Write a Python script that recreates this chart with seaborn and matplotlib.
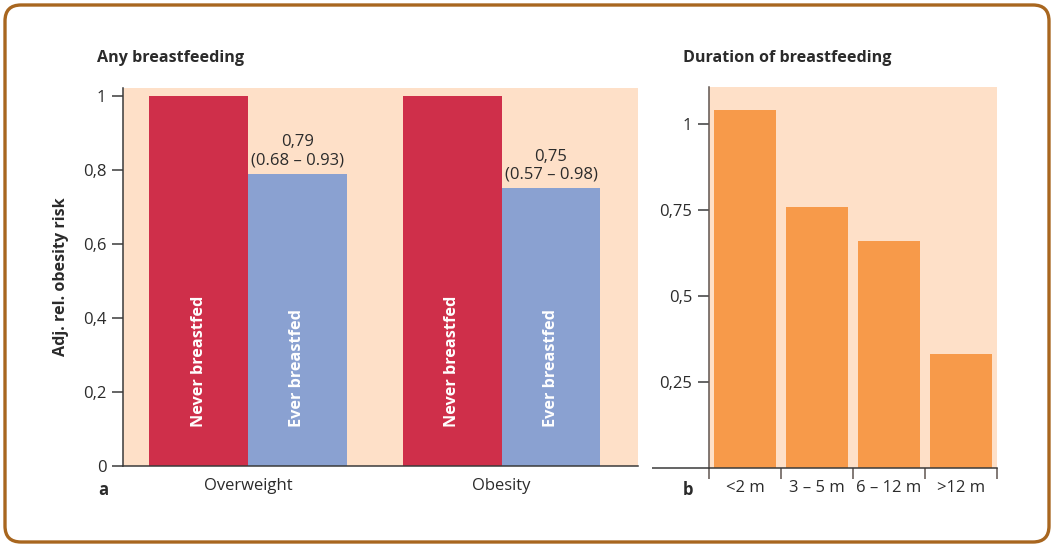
import matplotlib
matplotlib.use("Agg")
import matplotlib.pyplot as plt
from matplotlib.patches import FancyBboxPatch
from matplotlib.transforms import IdentityTransform, blended_transform_factory
import seaborn as sns
import pandas as pd

# ---- data -------------------------------------------------------------
conditions = ["Overweight", "Obesity"]
groups = ["Never breastfed", "Ever breastfed"]
never_risk = [1.0, 1.0]
ever_risk = [0.79, 0.75]
ever_ci_low = [0.68, 0.57]
ever_ci_high = [0.93, 0.98]

durations = ["<2 m", "3 – 5 m", "6 – 12 m", ">12 m"]
duration_risk = [1.04, 0.76, 0.66, 0.33]

left_yticks = [0, 0.2, 0.4, 0.6, 0.8, 1.0]
right_yticks = [0.25, 0.5, 0.75, 1.0]

# ---- style ------------------------------------------------------------
sns.set_style("ticks")
plt.rcParams["font.family"] = ["Open Sans", "DejaVu Sans"]
TEXT = "#2b2b2b"
AXIS = "#3a3a3a"
RED = "#cf2f4a"
BLUE = "#8aa1d1"
ORANGE = "#f79a4a"
PEACH = "#fee0c8"
FRAME = "#a8661f"
FS = 12
FS_TITLE = 11.6


def comma(v):
    s = f"{v:g}"
    return s.replace(".", ",")


W, H = 1052, 544
fig = plt.figure(figsize=(W / 100, H / 100), dpi=100)

# rounded outer frame (pixel coordinates)
frame = FancyBboxPatch((5, 2), 1044, 537, boxstyle="round,pad=0,rounding_size=16",
                       transform=IdentityTransform(), facecolor="none",
                       edgecolor=FRAME, linewidth=2.4)
fig.patches.append(frame)

# ---- panel a: any breastfeeding ----------------------------------------
ax1 = fig.add_axes([123 / W, (H - 466) / H, (638 - 123) / W, (466 - 88) / H])
ax1.set_facecolor(PEACH)

df = pd.DataFrame({
    "condition": conditions * 2,
    "group": [groups[0]] * len(conditions) + [groups[1]] * len(conditions),
    "risk": never_risk + ever_risk,
})
sns.barplot(data=df, x="condition", y="risk", hue="group", order=conditions,
            hue_order=groups, palette=[RED, BLUE], width=0.78, gap=0,
            saturation=1, linewidth=0, errorbar=None, legend=False, ax=ax1)

ax1.set_xlim(-0.493, 1.538)
ax1.set_ylim(0, 1.0216)
ax1.set_yticks(left_yticks)
ax1.set_yticklabels([comma(v) for v in left_yticks])
ax1.set_xlabel("")
ax1.set_ylabel("Adj. rel. obesity risk", fontsize=FS_TITLE, fontweight="bold",
               color=TEXT, labelpad=10)
for s in ["top", "right"]:
    ax1.spines[s].set_visible(False)
for s in ["left", "bottom"]:
    ax1.spines[s].set_color(AXIS)
    ax1.spines[s].set_linewidth(1.1)
ax1.tick_params(axis="y", length=8, width=1.1, color=AXIS, labelsize=FS,
                labelcolor=TEXT, pad=4)
ax1.tick_params(axis="x", length=0, labelsize=FS, labelcolor=TEXT, pad=9)

for container, label in zip(ax1.containers, groups):
    for bar in container:
        ax1.text(bar.get_x() + bar.get_width() / 2, 0.105, label,
                 rotation=90, ha="center", va="bottom", color="white",
                 fontsize=11.7, fontweight="bold")

for bar, v, lo, hi in zip(ax1.containers[1], ever_risk, ever_ci_low, ever_ci_high):
    ax1.annotate(f"{comma(v)}\n({lo:.2f} – {hi:.2f})",
                 (bar.get_x() + bar.get_width() / 2, bar.get_height()),
                 xytext=(0, 4), textcoords="offset points",
                 ha="center", va="bottom", fontsize=FS, color=TEXT,
                 linespacing=1.2)

# ---- panel b: duration of breastfeeding ------------------------------
ax2 = fig.add_axes([709 / W, (H - 468) / H, (997 - 709) / W, (468 - 87) / H])
ax2.set_facecolor(PEACH)
dfd = pd.DataFrame({"duration": durations, "risk": duration_risk})
sns.barplot(data=dfd, x="duration", y="risk", order=durations, color=ORANGE,
            width=0.86, saturation=1, linewidth=0, errorbar=None, ax=ax2)
ax2.set_xlim(-0.5, len(durations) - 0.5)
ax2.set_ylim(0, 1.1076)
ax2.set_yticks(right_yticks)
ax2.set_yticklabels([comma(v) for v in right_yticks])
ax2.set_xticks(range(len(durations)))
ax2.set_xticklabels(durations)
ax2.set_xticks([i - 0.5 for i in range(len(durations) + 1)], minor=True)
ax2.set_xlabel("")
ax2.set_ylabel("")
for s in ["top", "right"]:
    ax2.spines[s].set_visible(False)
ax2.spines["left"].set_color("#5f5550")
ax2.spines["bottom"].set_color(AXIS)
for s in ["left", "bottom"]:
    ax2.spines[s].set_linewidth(1.1)
ax2.tick_params(axis="y", length=8, width=1.1, color=AXIS, labelsize=FS,
                labelcolor=TEXT, pad=4)
ax2.tick_params(axis="x", which="major", length=0, labelsize=FS,
                labelcolor=TEXT, pad=9)
ax2.tick_params(axis="x", which="minor", length=8, width=1.1, color="#5f5550")
# baseline extends left of the axis
base = blended_transform_factory(ax2.transAxes, ax2.transData)
ax2.plot([-57 / 288, 0], [0, 0], transform=base, color=AXIS, lw=1.1,
         clip_on=False, solid_capstyle="butt")

# ---- titles and panel letters -----------------------------------------
fig.text(97 / W, (H - 58) / H, "Any breastfeeding", fontsize=FS_TITLE,
         fontweight="bold", color=TEXT, ha="left", va="center")
fig.text(683 / W, (H - 58) / H, "Duration of breastfeeding", fontsize=FS_TITLE,
         fontweight="bold", color=TEXT, ha="left", va="center")
fig.text(103 / W, (H - 490) / H, "a", fontsize=FS, fontweight="bold",
         color=TEXT, ha="center", va="center")
fig.text(688 / W, (H - 490) / H, "b", fontsize=FS, fontweight="bold",
         color=TEXT, ha="center", va="center")

fig.savefig("out.png", dpi=100, facecolor="white")
